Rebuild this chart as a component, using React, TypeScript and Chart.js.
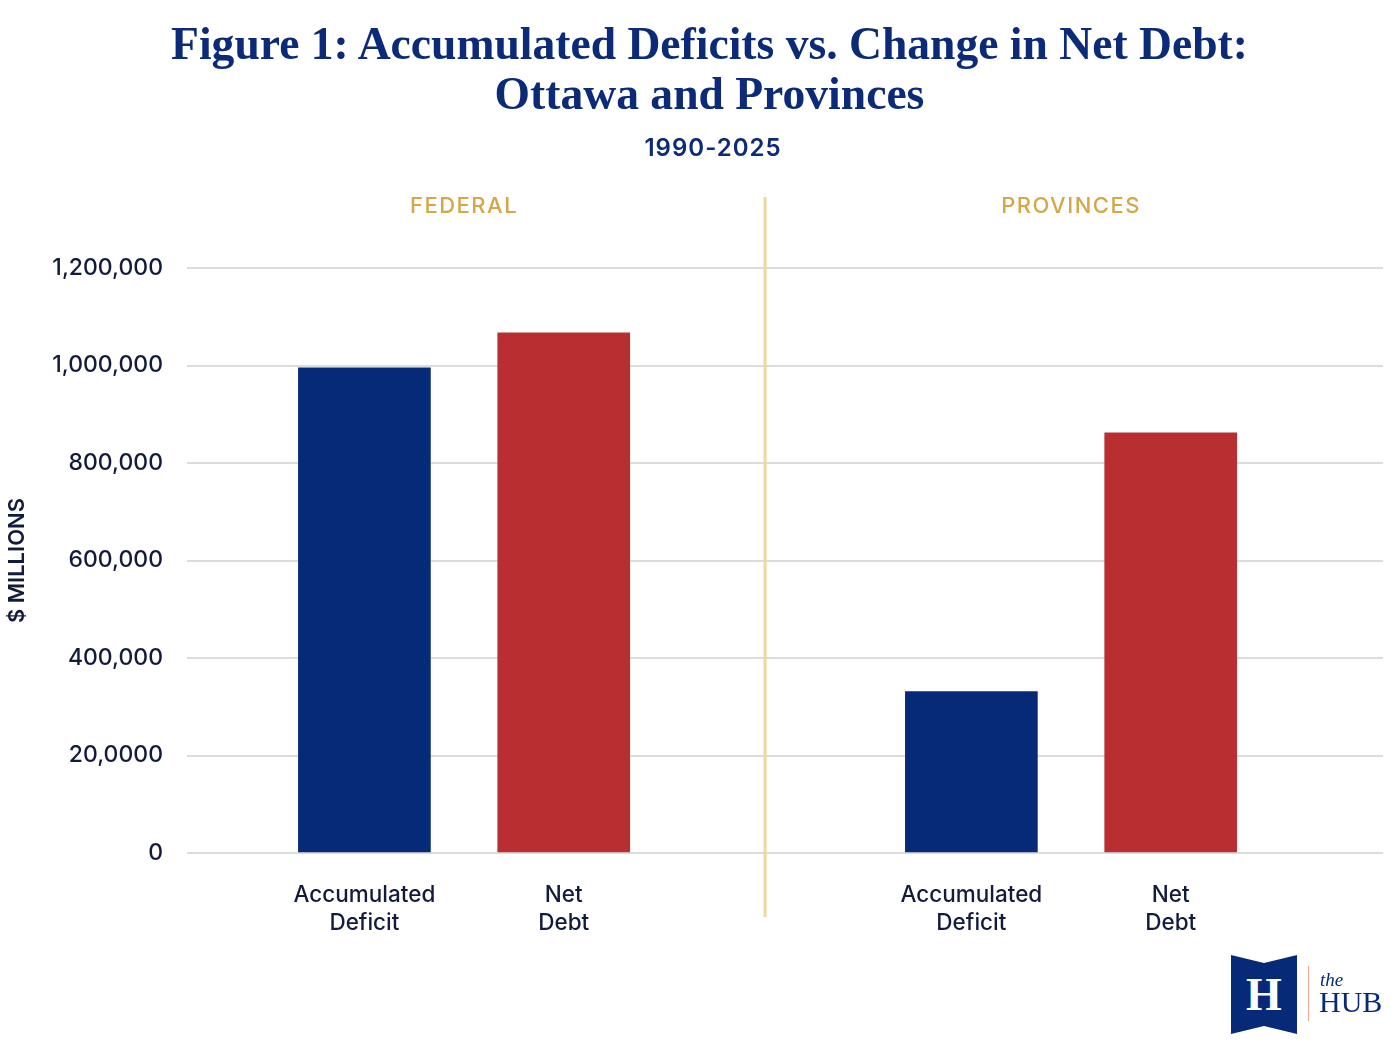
import React, { useEffect, useRef } from "react";
import { Chart, registerables } from "chart.js";

Chart.register(...registerables);

// ---- data ----
const GROUPS = ["FEDERAL", "PROVINCES"];
const CATEGORY_LABELS = [["Accumulated", "Deficit"], ["Net", "Debt"]];
const ACCUMULATED_DEFICIT = [995000, 331000];
const NET_DEBT = [1067000, 862000];
const Y_TICK_VALUES = [0, 200000, 400000, 600000, 800000, 1000000, 1200000];
const Y_TICK_LABELS = ["0", "20,0000", "400,000", "600,000", "800,000", "1,000,000", "1,200,000"];

// ---- layout (positions on the x scale) ----
const GROUP_START = [0.89, 3.935];
const DIVIDER_AT = 2.9;

const NAVY = "#062a78";
const RED = "#b82e31";
const GOLD = "#d4a748";
const INK = "#121b3b";
const SANS = "Inter, 'Noto Sans', sans-serif";

const barX = (g: number, i: number) => GROUP_START[g] + i;

export default function App() {
  const ref = useRef<HTMLCanvasElement | null>(null);

  useEffect(() => {
    if (!ref.current) return;
    const tickPositions: number[] = [];
    GROUPS.forEach((_, g) => CATEGORY_LABELS.forEach((__, i) => tickPositions.push(barX(g, i))));

    const panelPlugin = {
      id: "panels",
      afterDraw(chart: any) {
        const { ctx, chartArea, scales } = chart;
        const x = scales.x;
        ctx.save();
        const dx = x.getPixelForValue(DIVIDER_AT);
        ctx.strokeStyle = "#efd79c";
        ctx.lineWidth = 3;
        ctx.beginPath();
        ctx.moveTo(dx, chartArea.top - 71);
        ctx.lineTo(dx, chartArea.bottom + 64);
        ctx.stroke();
        ctx.fillStyle = GOLD;
        ctx.font = `500 22px ${SANS}`;
        ctx.textAlign = "center";
        ctx.textBaseline = "middle";
        (ctx as any).letterSpacing = "1.5px";
        GROUPS.forEach((name, g) => {
          const cx = (x.getPixelForValue(barX(g, 0)) + x.getPixelForValue(barX(g, 1))) / 2;
          ctx.fillText(name, cx, chartArea.top - 62);
        });
        ctx.restore();
      },
    };

    const chart = new Chart(ref.current, {
      type: "bar",
      data: {
        datasets: [
          {
            label: "Accumulated Deficit",
            data: GROUPS.map((_, g) => ({ x: barX(g, 0), y: ACCUMULATED_DEFICIT[g] })),
            backgroundColor: NAVY,
          },
          {
            label: "Net Debt",
            data: GROUPS.map((_, g) => ({ x: barX(g, 1), y: NET_DEBT[g] })),
            backgroundColor: RED,
          },
        ],
      },
      options: {
        animation: false,
        responsive: true,
        maintainAspectRatio: false,
        layout: { padding: { top: 268, right: 17, left: 0, bottom: 91 } },
        datasets: { bar: { grouped: false, barThickness: 132 } } as any,
        plugins: { legend: { display: false }, tooltip: { enabled: false }, title: { display: false } },
        scales: {
          x: {
            type: "linear",
            min: 0,
            max: 6,
            offset: false,
            grid: { display: false, drawTicks: false },
            border: { display: false },
            afterBuildTicks: (scale: any) => {
              scale.ticks = tickPositions.map((v) => ({ value: v }));
            },
            afterFit: (scale: any) => {
              scale.height = 110;
            },
            ticks: {
              autoSkip: false,
              maxRotation: 0,
              padding: 28,
              color: INK,
              font: { family: SANS, size: 22.5, weight: "500" as any, lineHeight: 1.25 },
              callback: (_v: any, i: number) => CATEGORY_LABELS[i % CATEGORY_LABELS.length],
            },
          },
          y: {
            min: 0,
            max: 1200000,
            grid: { color: "#dcdcdc", lineWidth: 2, drawTicks: false },
            border: { display: false },
            afterBuildTicks: (scale: any) => {
              scale.ticks = Y_TICK_VALUES.map((v) => ({ value: v }));
            },
            afterFit: (scale: any) => {
              scale.width = 187;
            },
            ticks: {
              padding: 24,
              color: INK,
              font: { family: SANS, size: 23, weight: "500" as any },
              callback: (_v: any, i: number) => Y_TICK_LABELS[i],
            },
            title: {
              display: true,
              text: "$ MILLIONS",
              color: INK,
              padding: 4,
              font: { family: SANS, size: 22, weight: "600" as any },
            },
          },
        },
      },
      plugins: [panelPlugin],
    });
    return () => chart.destroy();
  }, []);

  return (
    <div style={{ position: "absolute", left: 0, top: 0, width: 1400, height: 1054, background: "#fff" }}>
      <canvas ref={ref} style={{ position: "absolute", left: 0, top: 0 }} />
      <div
        style={{
          position: "absolute",
          left: 0,
          top: 19,
          width: 1419,
          textAlign: "center",
          fontFamily: "'Liberation Serif', 'DejaVu Serif', serif",
          fontWeight: 700,
          fontSize: 45.6,
          lineHeight: "50px",
          color: "#0b2a78",
        }}
      >
        Figure 1: Accumulated Deficits vs. Change in Net Debt:
        <br />
        Ottawa and Provinces
      </div>
      <div
        style={{
          position: "absolute",
          left: 0,
          top: 133,
          width: 1426,
          textAlign: "center",
          fontFamily: SANS,
          fontWeight: 600,
          fontSize: 24,
          letterSpacing: 1,
          color: "#0b2a78",
        }}
      >
        1990-2025
      </div>
      {/* logo */}
      <div
        style={{
          position: "absolute",
          left: 1231,
          top: 955,
          width: 66,
          height: 79,
          background: "#062a78",
          clipPath: "polygon(0 0, 50% 10%, 100% 0, 100% 100%, 50% 90%, 0 100%)",
          color: "#fff",
          fontFamily: "'Liberation Serif', serif",
          fontWeight: 700,
          fontSize: 46,
          lineHeight: "79px",
          textAlign: "center",
        }}
      >
        H
      </div>
      <div style={{ position: "absolute", left: 1308, top: 966, width: 1, height: 55, background: "#f2a58e" }} />
      <div
        style={{
          position: "absolute",
          left: 1320,
          top: 970,
          fontFamily: "'Liberation Serif', serif",
          fontStyle: "italic",
          fontSize: 19,
          lineHeight: "20px",
          color: "#062a78",
        }}
      >
        the
      </div>
      <div
        style={{
          position: "absolute",
          left: 1319,
          top: 986,
          fontFamily: "'Liberation Serif', serif",
          fontSize: 30,
          lineHeight: "32px",
          color: "#062a78",
        }}
      >
        HUB
      </div>
    </div>
  );
}
